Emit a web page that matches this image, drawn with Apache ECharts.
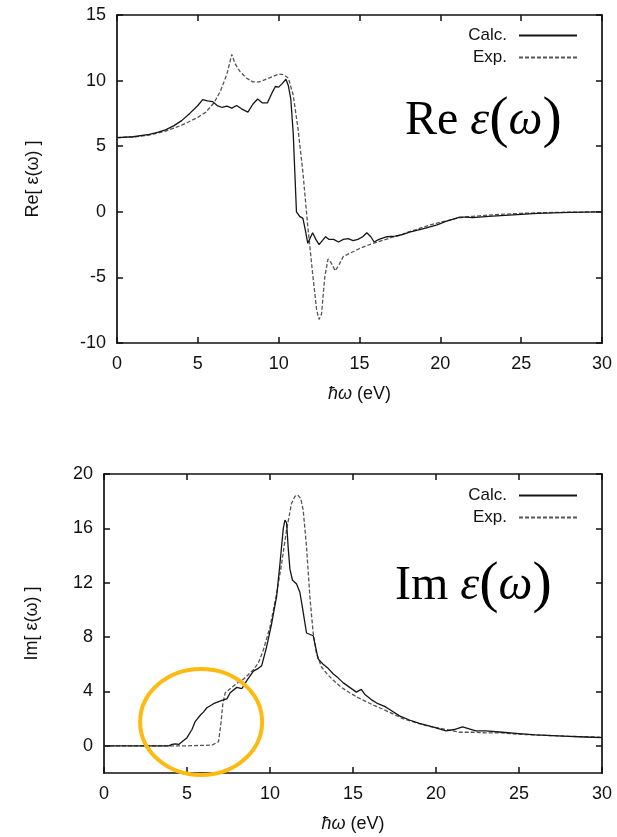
<!DOCTYPE html>
<html><head><meta charset="utf-8">
<script src="https://cdn.jsdelivr.net/npm/echarts@6/dist/echarts.min.js"></script>
<style>html,body{margin:0;padding:0;background:#fff}#c{width:617px;height:837px}</style>
</head><body><div id="c"></div><script>
// ---- data ----
const xTicks = [0, 5, 10, 15, 20, 25, 30];
const reTicks = [-10, -5, 0, 5, 10, 15];
const imTicks = [0, 4, 8, 12, 16, 20];
const seriesNames = ['Calc.', 'Exp.'];

const reCalcX = [0,1,2,2.5,3,3.5,4,4.5,5.0,5.3,5.6,5.9,6.2,6.5,6.8,7.1,7.4,7.7,8.1,8.4,8.7,9.0,9.3,9.6,9.8,10.0,10.2,10.45,10.6,10.75,10.9,11.0,11.1,11.3,11.5,11.65,11.8,11.95,12.1,12.3,12.5,12.7,12.9,13.1,13.4,13.7,14.0,14.3,14.6,14.9,15.2,15.45,15.7,15.9,16.2,16.7,17.2,17.6,18.1,18.6,19.2,19.8,20.3,20.8,21.2,21.6,22.0,23,24,25,26,27,28,29,30];
const reCalcY = [5.65,5.72,5.9,6.05,6.25,6.55,6.95,7.5,8.1,8.55,8.45,8.4,8.1,7.95,8.05,7.9,8.1,7.85,7.6,8.2,8.6,8.3,8.3,9.1,9.55,9.5,9.75,10.1,9.6,8.6,6.0,3.0,0.0,-0.35,-0.5,-1.4,-2.4,-2.0,-1.6,-2.1,-2.5,-2.2,-1.9,-2.1,-2.1,-2.3,-2.1,-2.05,-2.2,-2.1,-1.9,-1.6,-1.9,-2.3,-2.1,-1.9,-1.85,-1.75,-1.55,-1.4,-1.2,-1.0,-0.75,-0.55,-0.4,-0.4,-0.45,-0.35,-0.28,-0.2,-0.12,-0.08,-0.05,-0.02,0.0];

const reExpX = [0,1,2,3,4,5,5.5,6.0,6.4,6.8,7.0,7.1,7.3,7.6,8.0,8.4,8.8,9.2,9.6,10.0,10.3,10.6,10.9,11.2,11.5,11.8,12.1,12.35,12.5,12.65,12.85,13.05,13.25,13.5,13.75,14.0,14.5,15.0,15.5,16.0,16.5,17.0,17.5,18.0,18.5,19.0,19.5,20.0,20.5,21.0,21.5,22.0,23,24,25,26,27,28,30];
const reExpY = [5.65,5.7,5.85,6.15,6.6,7.2,7.6,8.3,9.2,10.5,11.5,12.0,11.3,10.7,10.2,9.9,9.9,10.1,10.3,10.5,10.45,10.2,8.9,6.3,3.0,-1.1,-4.7,-7.5,-8.2,-7.8,-5.0,-3.6,-3.9,-4.5,-4.0,-3.4,-3.1,-2.8,-2.55,-2.35,-2.15,-1.95,-1.8,-1.55,-1.35,-1.15,-0.95,-0.8,-0.65,-0.5,-0.4,-0.35,-0.25,-0.18,-0.12,-0.08,-0.05,-0.03,0.0];

const imCalcX = [0,3.9,4.1,4.3,4.5,4.7,5.0,5.3,5.5,5.8,6.0,6.2,6.6,7.1,7.4,7.6,8.0,8.3,8.6,9.0,9.3,9.5,9.8,10.1,10.4,10.6,10.8,10.9,11.0,11.1,11.2,11.35,11.6,11.8,11.95,12.2,12.6,12.9,13.2,13.5,13.8,14.1,14.4,14.8,15.2,15.5,15.7,16.1,16.5,16.9,17.3,17.8,18.4,19.0,19.8,20.6,21.1,21.6,22.0,22.4,23,24,25,26,27,28,29,30];
const imCalcY = [0,0,0.1,0.15,0.1,0.3,0.6,1.2,1.8,2.25,2.5,2.8,3.1,3.35,3.45,3.9,4.3,4.2,4.8,5.5,5.7,5.9,7.3,9.0,11.0,13.4,16.0,16.6,16.4,14.5,13.0,12.2,11.9,11.3,10.2,8.3,8.1,6.4,6.0,5.7,5.3,5.0,4.65,4.3,3.95,4.15,3.8,3.4,3.1,2.9,2.6,2.2,1.9,1.65,1.4,1.1,1.2,1.4,1.25,1.1,1.1,1.0,0.9,0.8,0.75,0.7,0.65,0.6];

const imExpX = [0,5,6.5,6.9,7.05,7.15,7.3,7.6,8.0,8.4,9.0,9.3,9.6,10.0,10.4,10.7,11.0,11.3,11.5,11.67,11.85,12.0,12.2,12.4,12.6,12.8,13.1,13.5,13.8,14.3,14.8,15.3,15.8,16.3,16.8,17.4,18.0,18.8,19.5,20.2,20.8,21.4,22.2,23,24,25,26,27,28,29,30];
const imExpY = [0,0,0.05,0.3,1.7,3.0,3.9,4.2,4.6,4.9,5.6,6.1,7.05,8.75,11.2,13.4,15.9,17.85,18.35,18.45,18.2,17.35,14.65,11.0,8.3,6.8,5.8,5.2,4.85,4.3,3.9,3.55,3.25,2.95,2.7,2.35,2.0,1.7,1.45,1.3,1.15,1.0,1.0,0.95,0.95,0.85,0.8,0.75,0.7,0.67,0.63];

// ---- helpers ----
const zip = (xs, ys) => xs.map((x, i) => [x, ys[i]]);
const SANS = 'Liberation Sans';
const SERIF = 'Liberation Serif';
const AX = '#111';
const CALC_COLOR = '#151515';
const EXP_COLOR = '#555';

function xAx(grid, pos, showLabel) {
  return {
    type: 'value', gridIndex: grid, position: pos, min: 0, max: 30, interval: 5,
    axisLine: { show: true, onZero: false, lineStyle: { color: AX, width: 1.7 } },
    axisTick: { show: true, inside: true, length: 6, lineStyle: { color: AX, width: 1.5 } },
    axisLabel: { show: showLabel, margin: 12, fontSize: 18, color: '#111', fontFamily: SANS },
    splitLine: { show: false },
    name: showLabel ? '{i|ħω} (eV)' : '',
    nameLocation: 'middle', nameGap: 42,
    nameTextStyle: { fontSize: 18, color: '#111', fontFamily: SANS,
      rich: { i: { fontSize: 18, fontStyle: 'italic', fontFamily: SANS, color: '#111' } } }
  };
}
function yAx(grid, pos, showLabel, min, max, ticks, name, gap) {
  return {
    type: 'value', gridIndex: grid, position: pos, min: min, max: max,
    axisLine: { show: true, onZero: false, lineStyle: { color: AX, width: 1.7 } },
    axisTick: { show: true, inside: true, length: 6, customValues: ticks, lineStyle: { color: AX, width: 1.5 } },
    axisLabel: { show: showLabel, customValues: ticks, margin: 11, fontSize: 18, color: '#111', fontFamily: SANS },
    splitLine: { show: false },
    name: showLabel ? name : '',
    nameLocation: 'middle', nameGap: gap, nameRotate: 90,
    nameTextStyle: { fontSize: 18, color: '#111', fontFamily: SANS }
  };
}
function line(name, xi, yi, data, dashed) {
  const col = dashed ? EXP_COLOR : CALC_COLOR;
  return {
    type: 'line', name: name, xAxisIndex: xi, yAxisIndex: yi, data: data,
    symbol: 'none', smooth: false, animation: false, z: dashed ? 3 : 4,
    itemStyle: { color: col },
    lineStyle: dashed ? { color: col, width: 1.3, type: [4, 2] } : { color: col, width: 1.3, type: 'solid' }
  };
}
function legend(top) {
  return {
    data: seriesNames, orient: 'vertical', right: 34, top: top, align: 'right',
    itemWidth: 58, itemHeight: 12, itemGap: 5,
    itemStyle: { opacity: 0 },
    textStyle: { fontSize: 17, color: '#111', fontFamily: SANS, padding: [0, 7, 0, 0] },
    selectedMode: false
  };
}

const chart = echarts.init(document.getElementById('c'), null, { renderer: 'canvas' });
chart.setOption({
  backgroundColor: '#fff',
  animation: false,
  grid: [
    { left: 117, top: 15, width: 485, height: 328 },
    { left: 104, top: 474, width: 498, height: 299 }
  ],
  xAxis: [xAx(0, 'bottom', true), xAx(0, 'top', false), xAx(1, 'bottom', true), xAx(1, 'top', false)],
  yAxis: [
    Object.assign(yAx(0, 'left', true, -10, 15, reTicks, 'Re[ ε(ω) ]', 75), { interval: 5 }),
    Object.assign(yAx(0, 'right', false, -10, 15, reTicks, '', 0), { interval: 5 }),
    yAx(1, 'left', true, -2, 20, imTicks, 'Im[ ε(ω) ]', 63),
    yAx(1, 'right', false, -2, 20, imTicks, '', 0)
  ],
  legend: [legend(22), legend(482)],
  series: [
    line(seriesNames[0], 0, 0, zip(reCalcX, reCalcY), false),
    line(seriesNames[1], 0, 0, zip(reExpX, reExpY), true),
    line(seriesNames[0], 2, 2, zip(imCalcX, imCalcY), false),
    line(seriesNames[1], 2, 2, zip(imExpX, imExpY), true)
  ]
});

// annotations
const c = chart.convertToPixel({ xAxisIndex: 2, yAxisIndex: 2 }, [5.85, 1.75]);
const bigRich = {
  r: { fontFamily: SERIF, fontSize: 48, color: '#000' },
  g: { fontFamily: SERIF, fontSize: 48, fontStyle: 'italic', color: '#000' },
  p: { fontFamily: SERIF, fontSize: 58, color: '#000' }
};
chart.setOption({
  graphic: [
    { type: 'text', left: 405, top: 92, z: 10,
      style: { text: '{r|Re }{g|ε}{p|(}{g|ω}{p|)}', rich: bigRich } },
    { type: 'text', left: 395, top: 557, z: 10,
      style: { text: '{r|Im }{g|ε}{p|(}{g|ω}{p|)}', rich: bigRich } },
    { type: 'ellipse', z: 10, silent: true,
      shape: { cx: c[0], cy: c[1], rx: 61, ry: 53 },
      style: { fill: 'none', stroke: '#FDBA12', lineWidth: 4 } }
  ]
});
</script></body></html>
